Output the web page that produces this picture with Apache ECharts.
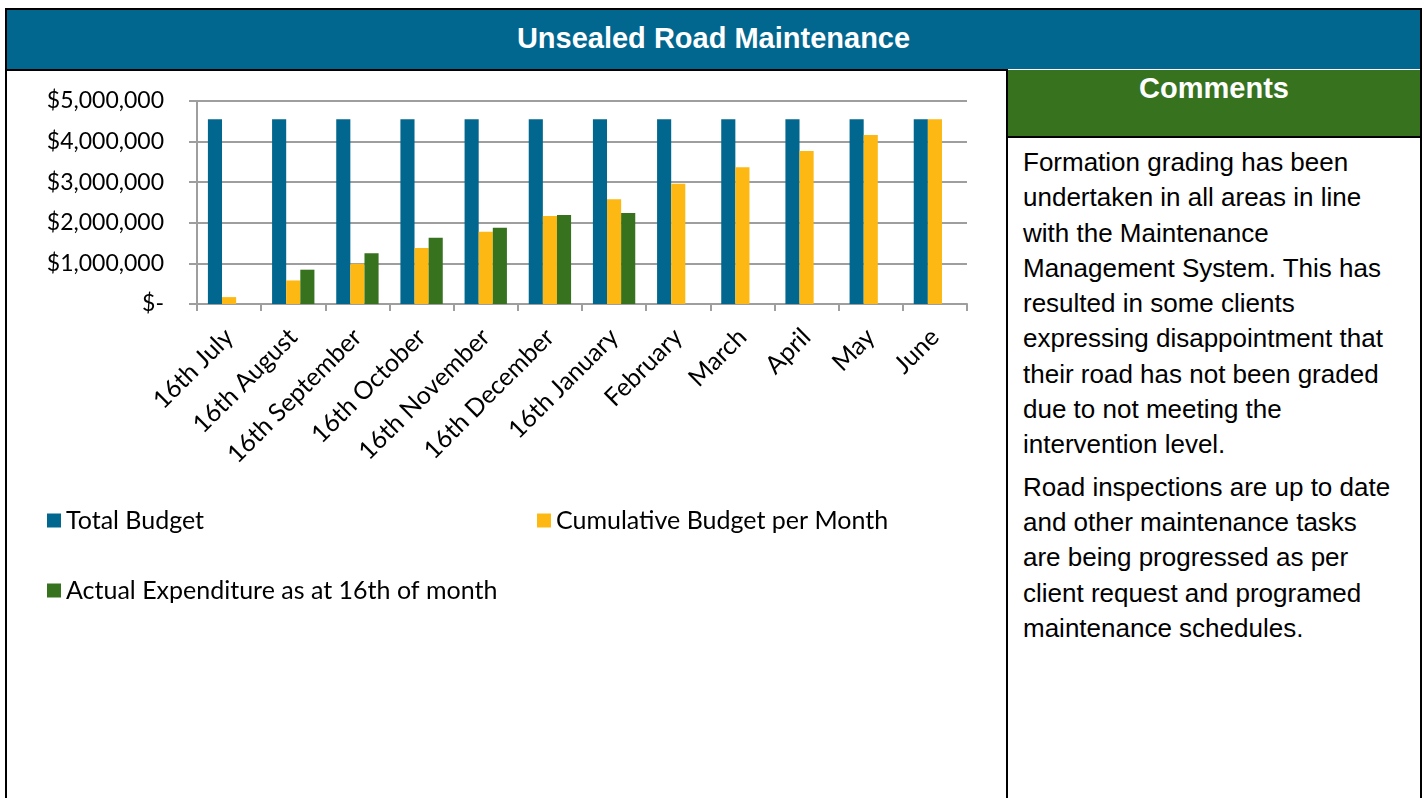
<!DOCTYPE html>
<html>
<head>
<meta charset="utf-8">
<title>Unsealed Road Maintenance</title>
<script src="https://cdn.jsdelivr.net/npm/echarts@6.0.0/dist/echarts.min.js"></script>
<style>
    body { margin: 0; background: #fff; width: 1424px; height: 798px; overflow: hidden; position: relative; }
    #frame { position: absolute; left: 5px; top: 8px; width: 1413px; height: 800px; border: 2px solid #000; border-bottom: none; }
    #header { position: absolute; left: 7px; top: 10px; width: 1413px; height: 59px; background: #02678f;
        color: #fff; font: bold 29px "Liberation Sans", Arial, sans-serif; text-align: center; line-height: 56px; }
    #topline { position: absolute; left: 7px; top: 69px; width: 1000px; height: 2px; background: #000; }
    #divider { position: absolute; left: 1006px; top: 69px; width: 2px; height: 740px; background: #000; }
    #commentsHead { position: absolute; left: 1008px; top: 70px; width: 412px; height: 66px; background: #37731f;
        border-bottom: 2px solid #000; color: #fff; font: bold 29px "Liberation Sans", Arial, sans-serif;
        text-align: center; line-height: 36px; }
    #comments { position: absolute; left: 1023px; top: 145px; font: 26px "Liberation Sans", Arial, sans-serif;
        color: #000; line-height: 35.3px; white-space: nowrap; }
    #comments p { margin: 0 0 7px 0; }
    #charts { position: absolute; left: 7px; top: 71px; width: 999px; height: 727px; }
</style>
</head>
<body>
<div id="frame"></div>
<div id="header">Unsealed Road Maintenance</div>
<div id="topline"></div>
<div id="divider"></div>
<div id="commentsHead">Comments</div>
<div id="comments">
    <p>Formation grading has been<br>undertaken in all areas in line<br>with the Maintenance<br>Management System. This has<br>resulted in some clients<br>expressing disappointment that<br>their road has not been graded<br>due to not meeting the<br>intervention level.</p>
    <p>Road inspections are up to date<br>and other maintenance tasks<br>are being progressed as per<br>client request and programed<br>maintenance schedules.</p>
</div>
<div id="charts"></div>

<script>
var months = ['16th July', '16th August', '16th September', '16th October', '16th November', '16th December',
    '16th January', 'February', 'March', 'April', 'May', 'June'];

var totalBudget = [4550000, 4550000, 4550000, 4550000, 4550000, 4550000,
    4550000, 4550000, 4550000, 4550000, 4550000, 4550000];

var cumulativeBudget = [170000, 580000, 990000, 1380000, 1780000, 2170000,
    2580000, 2960000, 3370000, 3770000, 4160000, 4550000];

// no actual figures yet for July and from February on
var actualExpenditure = [null, 845000, 1250000, 1630000, 1880000, 2190000,
    2240000, null, null, null, null, null];

var yTicks = [0, 1000000, 2000000, 3000000, 4000000, 5000000];

var seriesNames = ['Total Budget', 'Cumulative Budget per Month', 'Actual Expenditure as at 16th of month'];
var seriesColors = ['#02678f', '#fdb813', '#37731f'];

var labelFont = 'Lato, "Noto Sans", sans-serif';

function money (v) {
    if (v === 0) return '$-';
    return '$' + v.toLocaleString('en-US');
}

function legendFor (name, left, top) {
    return {
        data: [name],
        left: left,
        top: top,
        padding: 0,
        icon: 'rect',
        itemWidth: 14,
        itemHeight: 14,
        selectedMode: false,
        textStyle: { fontFamily: labelFont, fontSize: 25, color: '#000' }
    };
}

var myChart = echarts.init(document.getElementById('charts'));

myChart.setOption({
    animation: false,
    color: seriesColors,
    legend: [
        legendFor(seriesNames[0], 40, 437),
        legendFor(seriesNames[1], 530, 437),
        legendFor(seriesNames[2], 40, 507)
    ],
    grid: {
        left: 190, top: 30, width: 770, height: 203,
        containLabel: false, outerBoundsMode: 'none'
    },
    xAxis: {
        type: 'category',
        data: months,
        axisLine: { lineStyle: { color: '#9e9e9e', width: 2 } },
        axisTick: { show: true, length: 7, lineStyle: { color: '#9e9e9e', width: 2 } },
        axisLabel: {
            interval: 0, rotate: 45, margin: 29,
            fontFamily: labelFont, fontSize: 25, color: '#000'
        }
    },
    yAxis: {
        type: 'value',
        min: yTicks[0],
        max: yTicks[yTicks.length - 1],
        interval: yTicks[1] - yTicks[0],
        axisLine: { show: true, lineStyle: { color: '#9e9e9e', width: 2 } },
        axisTick: { show: true, length: 8, lineStyle: { color: '#9e9e9e', width: 2 } },
        splitLine: { lineStyle: { color: '#9e9e9e', width: 2 } },
        axisLabel: {
            margin: 33, formatter: money,
            fontFamily: labelFont, fontSize: 23, color: '#000'
        }
    },
    series: [
        { name: seriesNames[0], type: 'bar', data: totalBudget, barGap: '0%', barCategoryGap: '34%' },
        { name: seriesNames[1], type: 'bar', data: cumulativeBudget },
        { name: seriesNames[2], type: 'bar', data: actualExpenditure }
    ]
});
</script>
</body>
</html>
